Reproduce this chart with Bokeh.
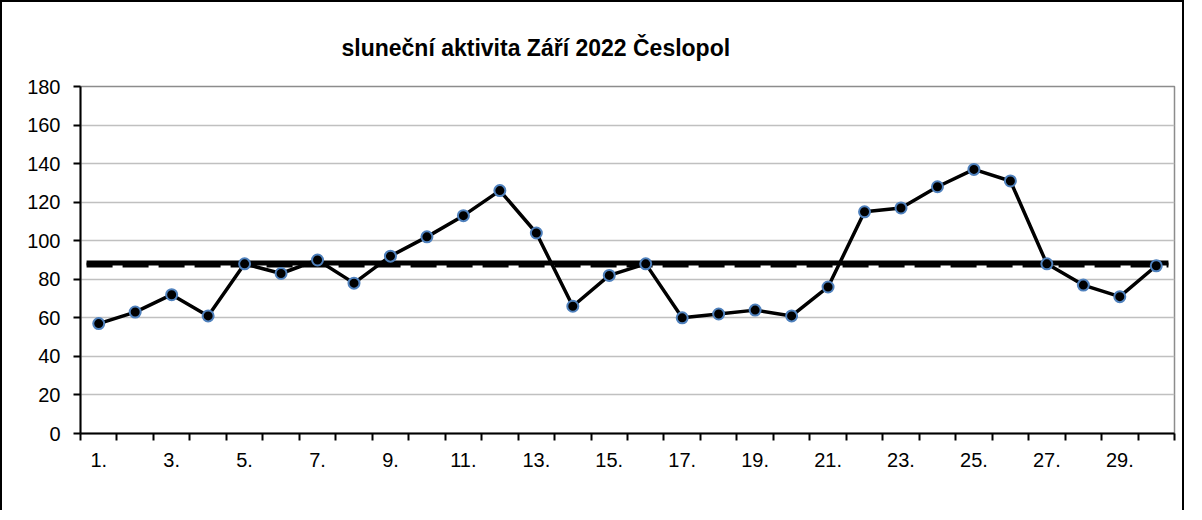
from bokeh.plotting import figure
from bokeh.models import FixedTicker, Range1d
from bokeh.embed import file_html
from bokeh.resources import INLINE

TITLE = "sluneční aktivita Září 2022 Česlopol"
days = list(range(1, 31))
activity = [57, 63, 72, 61, 88, 83, 90, 78, 92, 102, 113, 126, 104, 66, 82,
            88, 60, 62, 64, 61, 76, 115, 117, 128, 137, 131, 88, 77, 71, 87]
mean_solid = 88.4
mean_dashed = 87.4
y_ticks = list(range(0, 181, 20))

p = figure(width=1184, height=510, output_backend="svg", toolbar_location=None,
           x_range=Range1d(days[0] - 0.5, days[-1] + 0.5), y_range=Range1d(0, 180),
           min_border_left=78, min_border_right=12, min_border_top=84,
           min_border_bottom=79)
p.styles = {"border-top": "2px solid black", "border-left": "2px solid black",
            "border-right": "2px solid black"}
p.background_fill_color = "white"
p.border_fill_color = "white"
p.outline_line_color = "#8c8c8c"
p.outline_line_width = 1.5

p.title.text = TITLE
p.title.text_font = "Liberation Sans"
p.title.text_font_style = "bold"
p.title.text_font_size = "23px"
p.title.text_color = "black"
p.title.align = "left"
p.title.offset = 261
p.title.standoff = 52

p.xgrid.visible = False
p.ygrid.ticker = FixedTicker(ticks=y_ticks)
p.ygrid.grid_line_color = "#c0c0c0"
p.ygrid.grid_line_width = 1.5

p.yaxis.ticker = FixedTicker(ticks=y_ticks)
p.yaxis.axis_line_width = 2
p.yaxis.axis_line_color = "black"
p.yaxis.major_tick_line_width = 2
p.yaxis.major_tick_line_color = "black"
p.yaxis.major_tick_out = 7
p.yaxis.major_tick_in = 0
p.yaxis.minor_tick_line_color = None
p.yaxis.major_label_text_font = "Liberation Sans"
p.yaxis.major_label_text_font_size = "20px"
p.yaxis.major_label_text_color = "black"
p.yaxis.major_label_standoff = 13

odd_days = days[::2]
p.xaxis.ticker = FixedTicker(ticks=odd_days,
                             minor_ticks=[d - 0.5 for d in days] + [days[-1] + 0.5])
p.xaxis.major_label_overrides = {d: f"{d}." for d in odd_days}
p.xaxis.axis_line_width = 2
p.xaxis.axis_line_color = "black"
p.xaxis.major_tick_line_color = None
p.xaxis.major_tick_out = 7
p.xaxis.major_tick_in = 0
p.xaxis.minor_tick_line_color = "black"
p.xaxis.minor_tick_line_width = 2
p.xaxis.minor_tick_out = 7
p.xaxis.minor_tick_in = 0
p.xaxis.major_label_text_font = "Liberation Sans"
p.xaxis.major_label_text_font_size = "20px"
p.xaxis.major_label_text_color = "black"
p.xaxis.major_label_standoff = 12

x0 = days[0] - 1 / 3
x1 = days[-1] + 1 / 3
p.line([x0, x1], [mean_dashed, mean_dashed], line_color="black", line_width=5,
       line_dash="26 10")
p.line([x0, x1], [mean_solid, mean_solid], line_color="black", line_width=5)

p.line(days, activity, line_color="black", line_width=3.5)
p.scatter(days, activity, size=11, fill_color="black", line_color="#4f81bd",
          line_width=2)

open("out.html", "w").write(file_html(p, INLINE))
